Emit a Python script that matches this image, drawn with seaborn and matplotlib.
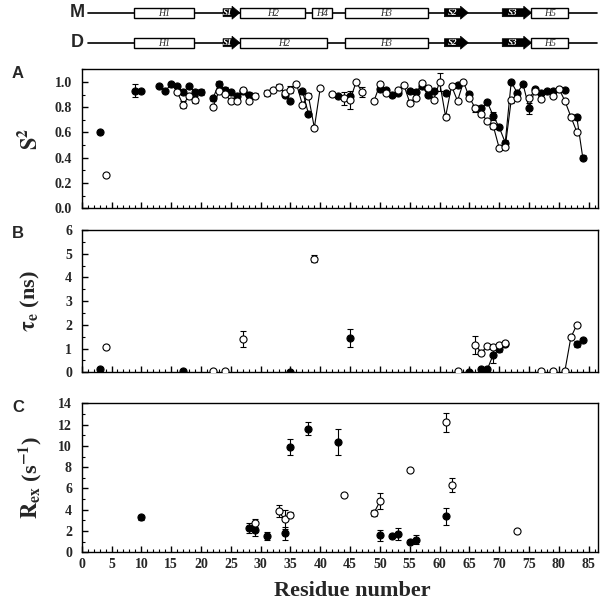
import numpy as np
import pandas as pd
import matplotlib
matplotlib.use("Agg")
import matplotlib.pyplot as plt
from matplotlib.patches import Rectangle, Polygon
from matplotlib.ticker import MultipleLocator
import seaborn as sns

# ---- secondary structure (residue ranges) ----
helix_M = [("H1", 8.7, 18.8), ("H2", 26.5, 37.5), ("H4", 38.6, 42.0), ("H3", 44.1, 58.0), ("H5", 75.4, 81.5)]
helix_D = [("H1", 8.7, 18.8), ("H2", 26.5, 41.2), ("H3", 44.1, 58.0), ("H5", 75.4, 81.5)]
strands = [("S1", 23.7, 26.5), ("S2", 60.8, 64.8), ("S3", 70.5, 75.4)]

# ---- panel A: S2 ----
a_fill_res = [3, 9, 10, 13, 14, 15, 16, 17, 18, 19, 20, 22, 23, 24, 25, 26, 27, 28, 34, 35, 37, 38,
              43, 45, 50, 51, 52, 53, 55, 56, 57, 58, 59, 61, 63, 65, 67, 68, 69, 70, 71, 72, 73,
              74, 75, 76, 77, 78, 79, 81, 83, 84]
a_fill_val = [0.60, 0.93, 0.93, 0.97, 0.93, 0.98, 0.965, 0.92, 0.965, 0.92, 0.92, 0.87, 0.985, 0.94,
              0.92, 0.89, 0.93, 0.90, 0.90, 0.85, 0.93, 0.75, 0.89, 0.89, 0.945, 0.935, 0.895, 0.91,
              0.925, 0.92, 0.97, 0.90, 0.93, 0.915, 0.975, 0.905, 0.79, 0.84, 0.73, 0.64, 0.52, 1.0,
              0.915, 0.98, 0.79, 0.945, 0.915, 0.925, 0.925, 0.94, 0.72, 0.40]
a_fill_err = [0.01, 0.05, 0.0, 0.0, 0.0, 0.0, 0.0, 0.0, 0.0, 0.0, 0.025, 0.02, 0.02, 0.02,
              0.0, 0.0, 0.02, 0.02, 0.0, 0.0, 0.0, 0.0, 0.0, 0.0, 0.0, 0.0, 0.0, 0.0,
              0.0, 0.0, 0.0, 0.0, 0.0, 0.0, 0.0, 0.0, 0.0, 0.0, 0.03, 0.0, 0.02, 0.01,
              0.0, 0.0, 0.04, 0.0, 0.0, 0.0, 0.0, 0.0, 0.02, 0.02]
a_open_res = [4, 16, 17, 18, 19, 22, 23, 24, 25, 26, 27, 28, 29, 31, 32, 33, 34, 35, 36, 37, 38, 39,
              40, 42, 44, 45, 46, 47, 49, 50, 51, 53, 54, 55, 56, 57, 58, 59, 60, 61, 62, 63, 64,
              65, 66, 67, 68, 69, 70, 71, 72, 73, 75, 76, 77, 79, 80, 81, 82, 83]
a_open_val = [0.265, 0.92, 0.82, 0.89, 0.86, 0.80, 0.925, 0.905, 0.85, 0.85, 0.935, 0.85, 0.89,
              0.915, 0.94, 0.96, 0.915, 0.94, 0.985, 0.82, 0.89, 0.637, 0.955, 0.907, 0.87, 0.857,
              1.0, 0.92, 0.85, 0.98, 0.91, 0.94, 0.976, 0.836, 0.876, 0.995, 0.955, 0.86, 1.0,
              0.725, 0.968, 0.85, 1.0, 0.876, 0.79, 0.75, 0.69, 0.65, 0.475, 0.485, 0.855, 0.87,
              0.875, 0.93, 0.865, 0.89, 0.947, 0.85, 0.725, 0.605]
a_open_err = [0.0, 0.0, 0.03, 0.0, 0.025, 0.0, 0.0, 0.0, 0.0, 0.0, 0.02, 0.0, 0.02,
              0.025, 0.0, 0.02, 0.0, 0.025, 0.0, 0.0, 0.02, 0.0, 0.0, 0.0, 0.05, 0.07,
              0.0, 0.04, 0.0, 0.0, 0.0, 0.0, 0.0, 0.02, 0.0, 0.0, 0.0, 0.0, 0.07,
              0.02, 0.0, 0.0, 0.0, 0.0, 0.03, 0.0, 0.0, 0.02, 0.0, 0.0, 0.02, 0.0,
              0.0, 0.0, 0.0, 0.0, 0.0, 0.0, 0.02, 0.0]

# ---- panel B: tau_e (ns) ----
b_fill_res = [3, 17, 35, 45, 65, 67, 68, 69, 70, 71, 83, 84]
b_fill_val = [0.15, 0.07, 0.03, 1.45, 0.03, 0.13, 0.13, 0.75, 0.97, 1.2, 1.2, 1.35]
b_fill_err = [0, 0, 0, 0.38, 0, 0, 0, 0.35, 0.1, 0.08, 0.12, 0]
b_open_res = [4, 22, 24, 27, 39, 63, 66, 67, 68, 69, 70, 71, 77, 79, 81, 82, 83]
b_open_val = [1.05, 0.07, 0.06, 1.41, 4.78, 0.06, 1.15, 0.83, 1.12, 1.05, 1.15, 1.25, 0.06, 0.06,
              0.06, 1.47, 2.0]
b_open_err = [0, 0, 0, 0.33, 0.15, 0, 0.38, 0.1, 0, 0.05, 0, 0.08, 0, 0, 0, 0, 0.05]

# ---- panel C: Rex (s-1) ----
c_fill_res = [10, 28, 29, 31, 34, 35, 38, 43, 50, 52, 53, 55, 56, 61]
c_fill_val = [3.3, 2.3, 2.05, 1.55, 1.8, 9.85, 11.6, 10.35, 1.6, 1.5, 1.7, 1.0, 1.2, 3.4]
c_fill_err = [0.25, 0.5, 0.55, 0.4, 0.6, 0.75, 0.6, 1.25, 0.5, 0.2, 0.55, 0.15, 0.4, 0.8]
c_open_res = [29, 33, 34, 35, 44, 49, 50, 55, 61, 62, 73]
c_open_val = [2.75, 3.85, 3.1, 3.55, 5.35, 3.7, 4.8, 7.75, 12.2, 6.35, 2.0]
c_open_err = [0.35, 0.55, 0.9, 0.2, 0, 0.3, 0.75, 0, 0.9, 0.65, 0]

sns.set_style("ticks")
plt.rcParams["font.family"] = ["Liberation Serif", "DejaVu Serif"]
plt.rcParams["font.weight"] = "bold"
plt.rcParams["mathtext.fontset"] = "stix"


def line_xy(res, val, max_jump=None):
    # connect consecutive residues only
    xs, ys = [], []
    for i in range(len(res)):
        if i > 0:
            gap = res[i] - res[i - 1] > 1
            jump = max_jump is not None and abs(val[i] - val[i - 1]) > max_jump
            if gap or jump:
                xs.append(np.nan)
                ys.append(np.nan)
        xs.append(res[i])
        ys.append(val[i])
    return xs, ys


def draw_series(ax, res, val, err, filled, max_jump=None):
    xs, ys = line_xy(res, val, max_jump)
    ax.plot(xs, ys, color="black", lw=0.8, zorder=2)
    ax.errorbar(res, val, yerr=err, fmt="none", ecolor="black", elinewidth=0.8,
                capsize=2.2, capthick=0.8, zorder=3)
    df = pd.DataFrame({"res": res, "val": val})
    sns.scatterplot(data=df, x="res", y="val", ax=ax, marker="o", s=26,
                    color="black" if filled else "white", edgecolor="black",
                    linewidth=0.8, zorder=4, legend=False)


fig = plt.figure(figsize=(6, 6.02), dpi=100)
L, W = 81.7 / 600, 516 / 600
H = 602.0

# secondary structure diagram
ax0 = fig.add_axes([L, 1 - 60 / H, W, 60 / H])
ax0.set_xlim(0, 86.5)
ax0.set_ylim(60, 0)
ax0.axis("off")
for name, y, helices in [("M", 12.7, helix_M), ("D", 42.7, helix_D)]:
    ax0.plot([1.1, 86.4], [y, y], color="black", lw=1.2, zorder=1, clip_on=False)
    ax0.text(-0.8, y, name, ha="center", va="center", fontsize=13,
             family="Liberation Sans", weight="bold", clip_on=False)
    for lab, x0, x1 in helices:
        ax0.add_patch(Rectangle((x0, y - 5), x1 - x0, 10, facecolor="white",
                                edgecolor="black", lw=1, zorder=2))
        ax0.text((x0 + x1) / 2, y + 0.5, lab, ha="center", va="center", fontsize=7,
                 style="italic", weight="normal", zorder=3)
    for lab, x0, x1 in strands:
        xh = x1 - 1.3
        pts = [(x0, y - 4), (xh, y - 4), (xh, y - 6.5), (x1, y), (xh, y + 6.5), (xh, y + 4), (x0, y + 4)]
        ax0.add_patch(Polygon(pts, closed=True, facecolor="black", edgecolor="black", lw=0.5, zorder=2))
        ax0.text((x0 + xh) / 2, y + 0.5, lab, ha="center", va="center", fontsize=6.5,
                 style="italic", color="white", zorder=3)

panels = [
    ("A", 69.3, 208.3, (0, 1.1), 0.2, 0.1, "{:.1f}"),
    ("B", 230.0, 372.3, (0, 6), 1, 0.5, "{:.0f}"),
    ("C", 403.3, 552.3, (0, 14), 2, 1, "{:.0f}"),
]
data = {
    "A": [(a_fill_res, a_fill_val, a_fill_err, True), (a_open_res, a_open_val, a_open_err, False)],
    "B": [(b_fill_res, b_fill_val, b_fill_err, True), (b_open_res, b_open_val, b_open_err, False)],
    "C": [(c_fill_res, c_fill_val, c_fill_err, True), (c_open_res, c_open_val, c_open_err, False)],
}
ylabels = {"A": r"$\mathbf{S^2}$", "B": r"$\mathbf{\tau_e}$ (ns)", "C": r"$\mathbf{R_{ex}}$ (s$^{\mathbf{-1}}$)"}

for key, top, bot, ylim, major, minor, fmt in panels:
    ax = fig.add_axes([L, 1 - bot / H, W, (bot - top) / H])
    jump = 2.5 if key == "C" else None
    for res, val, err, filled in data[key]:
        draw_series(ax, res, val, err, filled, max_jump=jump)
    ax.set_xlim(0, 86.5)
    ax.set_ylim(*ylim)
    ax.xaxis.set_major_locator(MultipleLocator(5))
    ax.xaxis.set_minor_locator(MultipleLocator(1))
    ax.yaxis.set_major_locator(MultipleLocator(major))
    ax.yaxis.set_minor_locator(MultipleLocator(minor))
    ax.tick_params(which="both", direction="in", top=False, right=False, color="black")
    ax.tick_params(which="major", length=4.5, width=1)
    ax.tick_params(which="minor", length=2.5, width=0.8)
    ax.tick_params(axis="y", pad=7, labelsize=10)
    ax.tick_params(axis="x", pad=4, labelsize=10)
    ax.set_yticks(np.arange(ylim[0], ylim[1] + 1e-9, major))
    ax.set_yticklabels([fmt.format(v) for v in np.arange(ylim[0], ylim[1] + 1e-9, major)])
    ax.set_ylim(*ylim)
    ax.set_xlabel("")
    ax.set_ylabel("")
    if key != "C":
        ax.set_xticklabels([])
    for sp in ax.spines.values():
        sp.set_color("black")
        sp.set_linewidth(1.0)
        sp.set_visible(True)
    fig.text(12 / 600, 1 - (top + 4) / H, key, ha="left", va="center", fontsize=12,
             family="Liberation Sans", weight="bold")
    fig.text(30 / 600, 1 - (top + bot) / 2 / H, ylabels[key], rotation=90,
             ha="center", va="center", fontsize=16, weight="bold")

fig.text(352 / 600, 1 - 591 / H, "Residue number", ha="center", va="center",
         fontsize=16, weight="bold")

fig.savefig("out.png", dpi=100)
